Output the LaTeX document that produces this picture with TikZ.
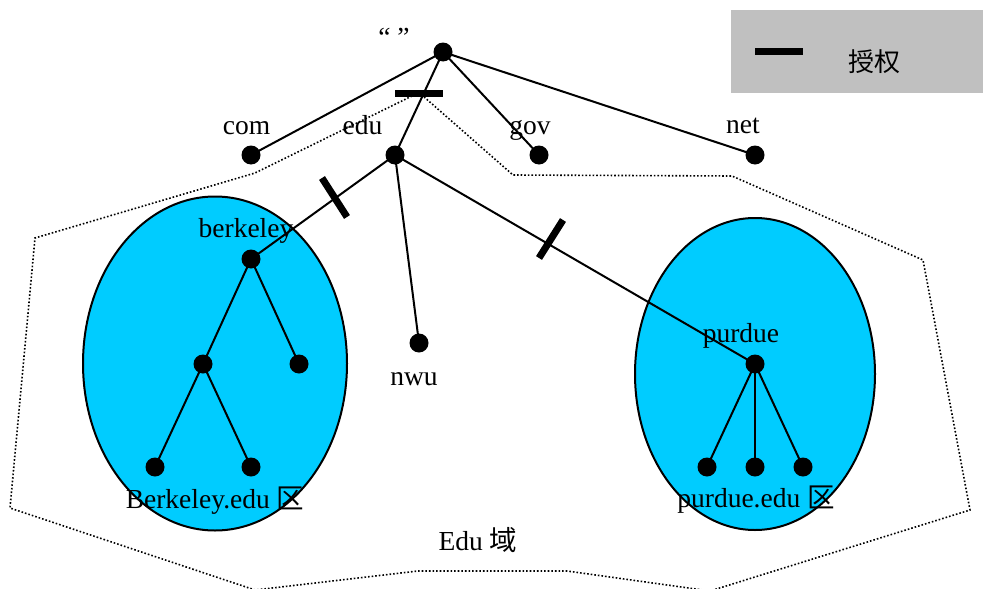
\documentclass[tikz,border=0pt]{standalone}
\usepackage{fontspec}
\usetikzlibrary{shapes.geometric}
\setmainfont{Liberation Serif}
\newfontfamily\cjk{Noto Sans CJK SC}
\definecolor{zonefill}{HTML}{00CCFF}
\definecolor{legendgray}{HTML}{C0C0C0}
\begin{document}
\begin{tikzpicture}[x=1pt,y=-1pt,
  dot/.style={circle,fill=black,inner sep=0pt,minimum size=19pt},
  lbl/.style={anchor=base,inner sep=0pt,font=\fontsize{27.5}{32}\selectfont},
  edge/.style={line width=2pt},
  authbar/.style={line width=7pt},
  domainline/.style={line width=1.6pt,dotted},
  zone/.style={draw=black,line width=2pt,fill=zonefill}]
\useasboundingbox (0,0) rectangle (983,589);
% legend
\fill[legendgray] (731,10) rectangle (983,93);
\coordinate (lgA) at (755,51.5);
\coordinate (lgB) at (803,51.5);
\draw[authbar] (lgA) -- (lgB);
\node[lbl,font=\fontsize{26}{30}\cjk] (lgt) at (874,71) {授权};
% edu domain outline
\draw[domainline] (412,96) -- (255,173) -- (35,238) -- (10,508) -- (255,590) -- (418,571) -- (567,571) -- (710,591) -- (970,510) -- (923,260) -- (732,176) -- (513,175) -- (423,96);
% zones
\node[zone,ellipse,minimum width=264pt,minimum height=334pt,inner sep=0pt] (bz) at (215,363.5) {};
\node[zone,ellipse,minimum width=240pt,minimum height=312pt,inner sep=0pt] (pz) at (755,374) {};
% nodes
\node[dot] (root) at (443,52) {};
\node[dot] (com) at (251,155) {};
\node[dot] (edu) at (395,155) {};
\node[dot] (gov) at (539,155) {};
\node[dot] (net) at (755,155) {};
\node[dot] (berk) at (251,259) {};
\node[dot] (nwu) at (419,343) {};
\node[dot] (purd) at (755,364) {};
\node[dot] (b1) at (203,364) {};
\node[dot] (b2) at (299,364) {};
\node[dot] (b11) at (155,467) {};
\node[dot] (b12) at (251,467) {};
\node[dot] (p1) at (707,467) {};
\node[dot] (p2) at (755,467) {};
\node[dot] (p3) at (803,467) {};
% edges
\draw[edge] (root.center) -- (com.center);
\draw[edge] (root.center) -- (edu.center);
\draw[edge] (root.center) -- (gov.center);
\draw[edge] (root.center) -- (net.center);
\draw[edge] (edu.center) -- (berk.center);
\draw[edge] (edu.center) -- (nwu.center);
\draw[edge] (edu.center) -- (purd.center);
\draw[edge] (berk.center) -- (b1.center);
\draw[edge] (berk.center) -- (b2.center);
\draw[edge] (b1.center) -- (b11.center);
\draw[edge] (b1.center) -- (b12.center);
\draw[edge] (purd.center) -- (p1.center);
\draw[edge] (purd.center) -- (p2.center);
\draw[edge] (purd.center) -- (p3.center);
% authorization bars
\coordinate (a1s) at (395,93);
\coordinate (a1e) at (443,93);
\draw[authbar] (a1s) -- (a1e);
\coordinate (a2s) at (322,178);
\coordinate (a2e) at (347,217);
\draw[authbar] (a2s) -- (a2e);
\coordinate (a3s) at (539,258);
\coordinate (a3e) at (563,220);
\draw[authbar] (a3s) -- (a3e);
% labels
\node[lbl] (tq) at (394,46) {“ ”};
\node[lbl] (tcom) at (246.5,134) {com};
\node[lbl] (tedu) at (362.5,134) {edu};
\node[lbl] (tgov) at (530,134) {gov};
\node[lbl] (tnet) at (743,133) {net};
\node[lbl] (tberk) at (246,237) {berkeley};
\node[lbl] (tnwu) at (414,385) {nwu};
\node[lbl] (tpurd) at (741,342) {purdue};
\node[lbl] (tbz) at (215,508) {Berkeley.edu {\cjk 区}};
\node[lbl] (tpz) at (756,507) {purdue.edu {\cjk 区}};
\node[lbl] (tdom) at (478,550) {Edu {\cjk 域}};
\end{tikzpicture}
\end{document}
